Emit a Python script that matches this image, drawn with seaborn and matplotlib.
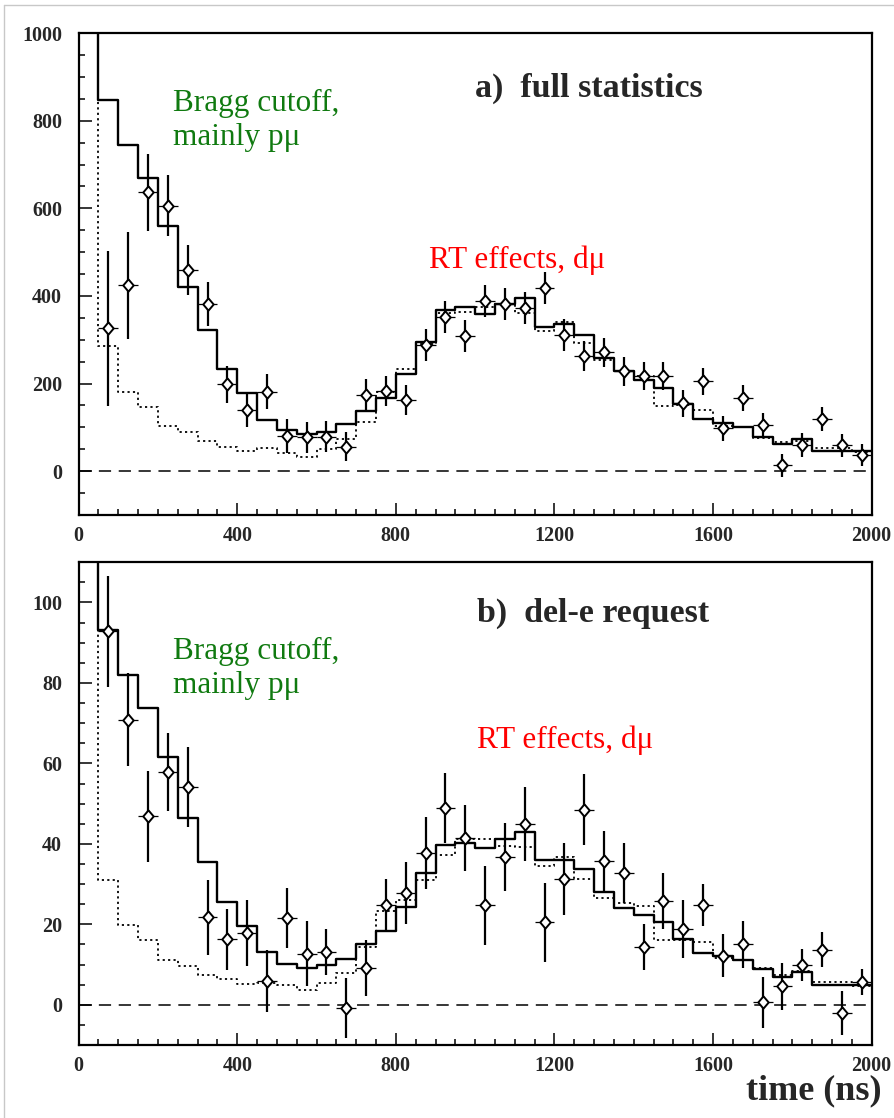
import numpy as np
import matplotlib
matplotlib.use("Agg")
import matplotlib.pyplot as plt
from matplotlib.lines import Line2D
from matplotlib.ticker import MultipleLocator
import seaborn as sns

# ---------------------------------------------------------------- data
# 50 ns time bins from 0 to 2000 ns; the first bin is far off scale
bin_width = 50
time_range = (0, 2000)
bin_centers = np.arange(25, 2000, 50)
point_times = bin_centers[1:]          # measured points start at 75 ns

# a) full statistics
a_model_total = [1300, 847, 745, 670, 560, 421, 322, 234, 179, 117, 95, 85, 90, 108,
                 137, 168, 222, 296, 367, 375, 358, 381, 395, 330, 336, 311, 259,
                 228, 209, 190, 153, 118, 111, 100, 78, 63, 73, 45, 45, 45]
a_model_dmu = [1250, 286, 181, 147, 102, 89, 68, 56, 46, 52, 42, 33, 50, 73, 112, 181,
               234, 290, 361, 363, 375, 381, 361, 319, 340, 292, 253, 228, 217, 148,
               152, 140, 104, 100, 75, 67, 68, 52, 52, 44]
a_counts = [326, 424, 637, 606, 459, 382, 198, 139, 181, 81, 77, 79, 56, 175, 183,
            162, 288, 352, 309, 388, 382, 373, 418, 311, 263, 271, 228, 217, 218,
            155, 205, 98, 167, 105, 13, 59, 119, 59, 36]
a_errors = [177, 122, 88, 70, 57, 50, 42, 38, 40, 39, 36, 35, 33, 36, 35, 34, 36, 36,
            36, 36, 36, 36, 36, 36, 34, 34, 33, 32, 32, 31, 30, 29, 30, 28, 27, 27,
            27, 26, 25]

# b) del-e request
b_model_total = [130, 93.2, 81.9, 73.8, 61.6, 46.4, 35.4, 25.6, 19.5, 13.1, 10.2, 9.1,
                 9.8, 11.5, 15.2, 18.3, 24.3, 32.7, 39.8, 40.3, 38.9, 41.1, 43.0,
                 36.0, 36.0, 33.7, 28.0, 24.1, 22.4, 20.6, 16.4, 12.9, 12.1, 11.1,
                 8.9, 6.9, 8.1, 5.0, 5.0, 5.0]
b_model_dmu = [125, 31.0, 19.8, 16.2, 11.2, 9.6, 7.3, 6.5, 5.2, 5.5, 4.8, 3.6, 5.4,
               7.9, 14.4, 23.4, 26.0, 31.0, 37.2, 41.3, 41.3, 39.5, 39.3, 34.5, 36.8,
               31.2, 26.6, 25.2, 24.5, 16.2, 16.0, 15.5, 11.6, 11.1, 9.1, 7.5, 8.3,
               5.6, 5.6, 4.6]
b_counts = [92.9, 70.9, 46.8, 57.8, 54.1, 21.7, 16.3, 17.9, 5.9, 21.6, 12.7, 13.1,
            -0.8, 9.1, 24.8, 27.7, 37.8, 48.9, 41.5, 24.7, 36.8, 44.9, 20.5, 31.2,
            48.5, 35.7, 32.8, 14.4, 25.8, 18.9, 24.9, 12.2, 15.0, 0.6, 4.6, 9.8,
            13.7, -2.1, 5.7]
b_errors = [13.8, 11.6, 11.4, 9.7, 10.0, 9.3, 7.6, 8.2, 7.7, 7.5, 8.0, 5.8, 7.5, 6.9,
            6.4, 7.7, 8.9, 8.6, 8.2, 9.9, 8.4, 9.2, 9.8, 8.9, 8.8, 7.5, 7.5, 5.8, 7.0,
            7.2, 5.2, 5.4, 5.8, 6.4, 5.9, 4.0, 4.3, 5.4, 3.2]

x_ticks = [0, 400, 800, 1200, 1600, 2000]
a_yticks = [0, 200, 400, 600, 800, 1000]
b_yticks = [0, 20, 40, 60, 80, 100]

# ---------------------------------------------------------------- style
sns.set_style("white")
plt.rcParams["font.family"] = ["Liberation Serif", "DejaVu Serif"]
SERIF = ["Liberation Serif", "DejaVu Serif"]

fig = plt.figure(figsize=(8.94, 11.18), dpi=100)
ax_a = fig.add_axes([0.088, 0.5394, 0.887, 0.4309])
ax_b = fig.add_axes([0.088, 0.0653, 0.887, 0.4318])

diamond = [(0, 1), (0.85, 0), (0, -1), (-0.85, 0), (0, 1)]


def draw_panel(ax, total, dmu, counts, errors, ylim, yticks, yminor,
               title, title_xy, bragg_xy, rt_xy):
    sns.histplot(x=bin_centers, weights=dmu, binwidth=bin_width, binrange=time_range,
                 element="step", fill=False, color="black", linewidth=1.3,
                 linestyle=(0, (1.2, 1.8)), ax=ax, zorder=2)
    sns.histplot(x=bin_centers, weights=total, binwidth=bin_width, binrange=time_range,
                 element="step", fill=False, color="black", linewidth=1.7,
                 ax=ax, zorder=3)
    ax.axhline(0, color="black", linewidth=1.1, linestyle=(0, (8, 5)), zorder=1)

    ax.errorbar(point_times, counts, xerr=25, fmt="none", ecolor="black",
                elinewidth=0.9, capsize=0, zorder=4)
    ax.errorbar(point_times, counts, yerr=errors, fmt="none", ecolor="black",
                elinewidth=1.6, capsize=0, zorder=4)
    sns.scatterplot(x=point_times, y=counts, marker=diamond, s=78, color="white",
                    edgecolor="black", linewidth=1.4, ax=ax, zorder=5)

    ax.set_xlim(*time_range)
    ax.set_ylim(*ylim)
    ax.set_xticks(x_ticks)
    ax.set_yticks(yticks)
    ax.xaxis.set_minor_locator(MultipleLocator(50))
    ax.yaxis.set_minor_locator(MultipleLocator(yminor))
    ax.set_xlabel("")
    ax.set_ylabel("")
    ax.tick_params(which="both", direction="in", top=False, right=False,
                   bottom=True, left=True, color="black")
    ax.tick_params(which="major", length=9, width=1.1)
    ax.tick_params(which="minor", length=4.5, width=1.1)
    ax.tick_params(axis="x", which="major", pad=8)
    ax.tick_params(axis="y", which="major", pad=12)
    for lab in ax.get_xticklabels() + ax.get_yticklabels():
        lab.set_family(SERIF)
        lab.set_fontsize(14.5)
        lab.set_fontweight("bold")
    for sp in ax.spines.values():
        sp.set_visible(True)
        sp.set_color("black")
        sp.set_linewidth(1.6)

    ax.text(*title_xy, title, family=SERIF, fontsize=24.5, fontweight="bold",
            ha="left", va="baseline")
    # anchored at the baseline of the last line
    ax.text(*bragg_xy, "Bragg cutoff,\nmainly p\u03bc", family=SERIF, fontsize=22.5,
            color="#107a10", ha="left", va="baseline", linespacing=1.2)
    ax.text(*rt_xy, "RT effects, d\u03bc", family=SERIF, fontsize=22.5,
            color="#ff0000", ha="left", va="baseline")


draw_panel(ax_a, a_model_total, a_model_dmu, a_counts, a_errors,
           (-100, 1000), a_yticks, 50,
           "a)  full statistics", (1000, 855), (238, 745), (884, 463))
draw_panel(ax_b, b_model_total, b_model_dmu, b_counts, b_errors,
           (-10, 110), b_yticks, 5,
           "b)  del-e request", (1004, 95.3), (238, 77.6), (1005, 63.8))

fig.text(882 / 894, 1 - 1099 / 1118, "time (ns)", family=SERIF, fontsize=26,
         fontweight="bold", ha="right", va="baseline")

# thin frame lines along the left and top edges of the page
fig.add_artist(Line2D([4 / 894, 4 / 894], [0, 1 - 5 / 1118],
                      transform=fig.transFigure, color="#c8c8c8", linewidth=1))
fig.add_artist(Line2D([4 / 894, 1], [1 - 5 / 1118, 1 - 5 / 1118],
                      transform=fig.transFigure, color="#c8c8c8", linewidth=1))

fig.savefig("out.png", dpi=100, facecolor="white")
